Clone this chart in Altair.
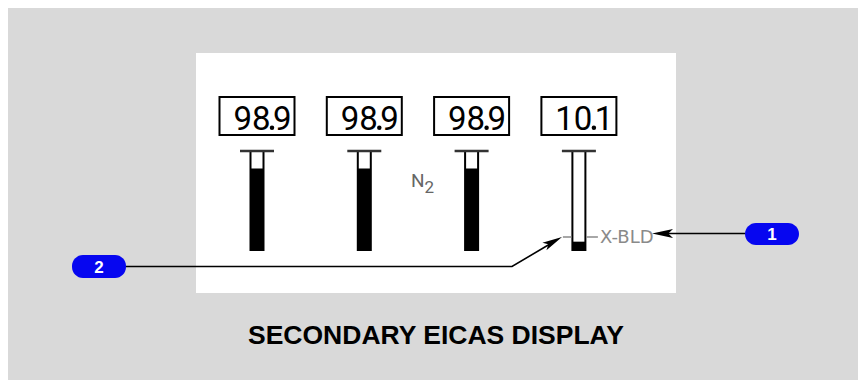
import altair as alt
import pandas as pd

# ---------------- data ----------------
readouts = ["98.9", "98.9", "98.9", "10.1"]      # digital readouts
n2_values = [98.9, 98.9, 98.9, 10.1]             # N2 %, drives the bar fill
n2_max = 120                                     # full-scale of the vertical tape
callout_labels = ["1", "2"]
param_label = "N"
param_sub = "2"
bleed_label = "X-BLD"
title_text = "SECONDARY EICAS DISPLAY"

# ---------------- layout (page pixels) ----------------
M = 8
W, H = 866 - M, 388 - M          # right / bottom edge of the drawable area
gauge_x0, gauge_dx = 257.0, 107.3
centers = [gauge_x0 + i * gauge_dx for i in range(len(readouts))]
box_hw, box_top, box_bot = 37.5, 97, 135
bar_hw, bar_top, bar_bot = 6.5, 151, 250
cap_hw = 17

xs = alt.Scale(domain=[M, W], nice=False, zero=False)
ys = alt.Scale(domain=[M, H], reverse=True, nice=False, zero=False)


def X(f="x"):
    return alt.X(f"{f}:Q", scale=xs, axis=None)


def Y(f="y"):
    return alt.Y(f"{f}:Q", scale=ys, axis=None)


def rect_enc(ch):
    return ch.encode(x=X("x"), x2="x2", y=Y("y"), y2="y2")


# white panel
panel = rect_enc(alt.Chart(pd.DataFrame([{"x": 196, "x2": 676, "y": 53, "y2": 293}]))
                 .mark_rect(color="white"))

# readout boxes
boxes_df = pd.DataFrame({
    "x": [c - box_hw for c in centers], "x2": [c + box_hw for c in centers],
    "y": box_top, "y2": box_bot})
boxes = rect_enc(alt.Chart(boxes_df).mark_rect(fill="white", stroke="black", strokeWidth=2))

# readout digits: integer part, decimal point (drawn as a dot), tenths
int_parts = [r.split(".")[0] for r in readouts]
frac_parts = [r.split(".")[1] for r in readouts]
base = 130
num_font = dict(baseline="alphabetic", fontSize=33, color="black", font="Roboto, sans-serif")
int_df = pd.DataFrame({"x": [c + 13.5 for c in centers], "y": base, "t": int_parts})
frac_df = pd.DataFrame({"x": [c + 34.5 for c in centers], "y": base, "t": frac_parts})
dot_df = pd.DataFrame({"x": [c + 15 for c in centers], "y": base - 2.2})
int_txt = alt.Chart(int_df).mark_text(align="right", **num_font).encode(x=X(), y=Y(), text="t:N")
frac_txt = alt.Chart(frac_df).mark_text(align="right", **num_font).encode(x=X(), y=Y(), text="t:N")
dots = alt.Chart(dot_df).mark_point(shape="circle", filled=True, size=20, color="black",
                                    opacity=1, strokeWidth=0).encode(x=X(), y=Y())

# tapes
bars_df = pd.DataFrame({
    "x": [c - bar_hw for c in centers], "x2": [c + bar_hw for c in centers],
    "y": bar_top, "y2": bar_bot})
bars = rect_enc(alt.Chart(bars_df).mark_rect(fill="white", stroke="black", strokeWidth=2))

fill_df = pd.DataFrame({
    "x": [c - bar_hw for c in centers], "x2": [c + bar_hw for c in centers],
    "y": [bar_bot - v / n2_max * (bar_bot - bar_top) for v in n2_values],
    "y2": bar_bot})
fills = rect_enc(alt.Chart(fill_df).mark_rect(color="black"))

caps_df = pd.DataFrame({"x": [c - cap_hw for c in centers],
                        "x2": [c + cap_hw for c in centers], "y": bar_top})
caps = alt.Chart(caps_df).mark_rule(color="#333333", strokeWidth=2.5).encode(
    x=X("x"), x2="x2", y=Y("y"))

# N2 label
n_txt = alt.Chart(pd.DataFrame([{"x": 411, "y": 187, "t": param_label}])).mark_text(
    align="left", baseline="alphabetic", fontSize=19, color="#666666",
    font="Roboto, sans-serif").encode(x=X(), y=Y(), text="t:N")
sub_txt = alt.Chart(pd.DataFrame([{"x": 424.5, "y": 193, "t": param_sub}])).mark_text(
    align="left", baseline="alphabetic", fontSize=17, color="#666666",
    font="Roboto, sans-serif").encode(x=X(), y=Y(), text="t:N")

# crossbleed ticks and label
c4 = centers[3]
ticks_df = pd.DataFrame({"x": [c4 - 16, c4 + bar_hw + 1], "x2": [c4 - bar_hw - 1, c4 + 19], "y": 237})
ticks = alt.Chart(ticks_df).mark_rule(color="#8a8a8a", strokeWidth=1.5).encode(
    x=X("x"), x2="x2", y=Y("y"))
xbld = alt.Chart(pd.DataFrame([{"x": 600, "y": 242.5, "t": bleed_label}])).mark_text(
    align="left", baseline="alphabetic", fontSize=18, color="#8a8a8a",
    font="DejaVu Sans").encode(x=X(), y=Y(), text="t:N")

# leader lines
line1_df = pd.DataFrame({"x": [745, 662], "y": [233.5, 233.5], "o": [0, 1]})
line1 = alt.Chart(line1_df).mark_line(color="black", strokeWidth=1.6).encode(
    x=X(), y=Y(), order="o:Q")
line2_df = pd.DataFrame({"x": [126, 512, 555], "y": [266.5, 266.5, 241], "o": [0, 1, 2]})
line2 = alt.Chart(line2_df).mark_line(color="black", strokeWidth=1.6).encode(
    x=X(), y=Y(), order="o:Q")

arrow_path = "M0,0L2,-0.43L1.55,0L2,0.43Z"
arrow1 = alt.Chart(pd.DataFrame([{"x": 652, "y": 233.5}])).mark_point(
    shape=arrow_path, filled=True, size=441, color="black", opacity=1, strokeWidth=0
).encode(x=X(), y=Y())
arrow2 = alt.Chart(pd.DataFrame([{"x": 562, "y": 237}])).mark_point(
    shape=arrow_path, filled=True, size=400, color="black", opacity=1, strokeWidth=0,
    angle=151.6).encode(x=X(), y=Y())

# callout pills
pills_df = pd.DataFrame({"x": [745, 72], "x2": [799, 126], "y": [223, 255], "y2": [245, 278],
                         "cx": [772, 99], "cy": [234, 266.5], "t": callout_labels})
pills = rect_enc(alt.Chart(pills_df).mark_rect(color="#0606f0", cornerRadius=11))
pill_txt = alt.Chart(pills_df).mark_text(
    align="center", baseline="middle", fontSize=17, fontWeight="bold", color="white",
    font="Liberation Sans, Arial, sans-serif", dy=1).encode(x=X("cx"), y=Y("cy"), text="t:N")

# title
title = alt.Chart(pd.DataFrame([{"x": 436, "y": 344, "t": title_text}])).mark_text(
    align="center", baseline="alphabetic", fontSize=26.5, fontWeight="bold", color="black",
    font="Liberation Sans, Arial, sans-serif").encode(x=X(), y=Y(), text="t:N")

chart = alt.layer(
    panel, boxes, int_txt, frac_txt, dots, bars, fills, caps, n_txt, sub_txt, ticks, xbld,
    line1, line2, arrow1, arrow2, pills, pill_txt, title
).properties(
    width=W - M, height=H - M, padding=0, background="#d9d9d9",
    autosize=alt.AutoSizeParams(type="none")
).configure_view(stroke=None)

chart.save("out.html", embed_options={"renderer": "svg", "actions": False})
